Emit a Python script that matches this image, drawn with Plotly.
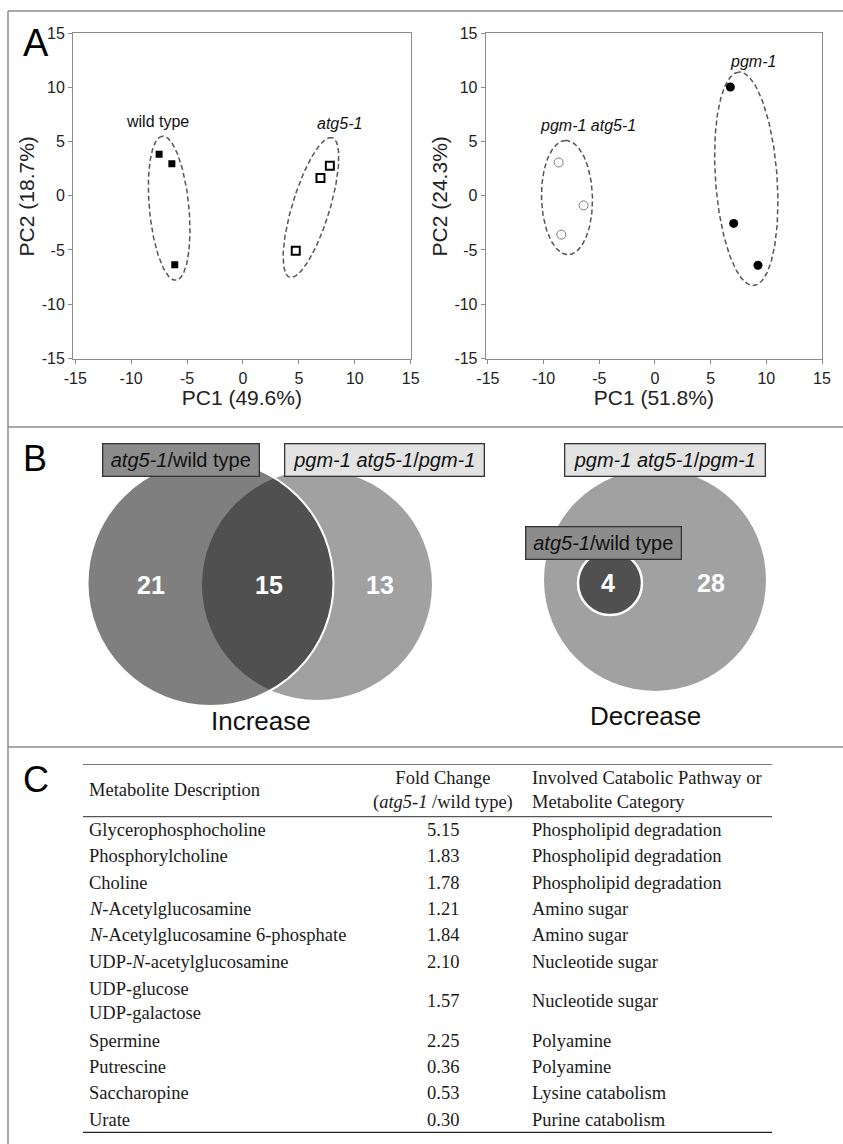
import numpy as np
import plotly.graph_objects as go

W, H = 843, 1144

# ---------------- Panel A data (PCA scores) ----------------
wt_x = [-7.50, -6.36, -6.10]
wt_y = [3.84, 2.95, -6.36]
atg5_x = [4.72, 6.93, 7.77]
atg5_y = [-5.07, 1.63, 2.76]
pgm_atg5_x = [-8.65, -6.41, -8.41]
pgm_atg5_y = [3.07, -0.89, -3.59]
pgm_x = [6.77, 7.07, 9.25]
pgm_y = [10.04, -2.55, -6.42]

# confidence ellipses: centre x, centre y, semi-major, semi-minor, angle (deg)
ell_wt = (-6.60, -1.15, 6.68, 1.77, 95.2)
ell_atg5 = (6.08, -1.08, 6.72, 1.68, 73.6)
ell_pgm_atg5 = (-7.90, -0.17, 5.27, 2.29, 91.3)
ell_pgm = (8.20, 1.57, 9.87, 2.77, 93.9)

group_labels_left = ["wild type", "<i>atg5-1</i>"]
group_label_left_x = [-7.64, 8.66]
group_label_left_y = [6.85, 6.70]
group_labels_right = ["<i>pgm-1 atg5-1</i>", "<i>pgm-1</i>"]
group_label_right_x = [-6.0, 8.8]
group_label_right_y = [6.45, 12.43]

pc_ticks = [-15, -10, -5, 0, 5, 10, 15]
pc_tick_text = ["-15", "-10", "-5", "0", "5", "10", "15"]
pc1_titles = ["PC1 (49.6%)", "PC1 (51.8%)"]
pc2_titles = ["PC2 (18.7%)", "PC2 (24.3%)"]

# ---------------- Panel B data (Venn counts) ----------------
inc_only_atg5 = 21
inc_both = 15
inc_only_pgm = 13
dec_both = 4
dec_only_pgm = 28
set_atg5 = "<i>atg5-1</i>/wild type"
set_pgm = "<i>pgm-1 atg5-1</i>/<i>pgm-1</i>"

# ---------------- Panel C data (table) ----------------
col_headers = ["Metabolite Description",
               "Fold Change<br>(<i>atg5-1</i> /wild type)",
               "Involved Catabolic Pathway or<br>Metabolite Category"]
metabolites = ["Glycerophosphocholine", "Phosphorylcholine", "Choline",
               "<i>N</i>-Acetylglucosamine", "<i>N</i>-Acetylglucosamine 6-phosphate",
               "UDP-<i>N</i>-acetylglucosamine", "UDP-glucose<br>UDP-galactose",
               "Spermine", "Putrescine", "Saccharopine", "Urate"]
fold_change = [5.15, 1.83, 1.78, 1.21, 1.84, 2.10, 1.57, 2.25, 0.36, 0.53, 0.30]
pathway = ["Phospholipid degradation", "Phospholipid degradation", "Phospholipid degradation",
           "Amino sugar", "Amino sugar", "Nucleotide sugar", "Nucleotide sugar",
           "Polyamine", "Polyamine", "Lysine catabolism", "Purine catabolism"]

SANS = "Liberation Sans, Arial, sans-serif"
SERIF = "Liberation Serif, Times New Roman, serif"
FRAME = "#8c8c8c"


def px(x):
    return x / W


def py(y):
    return 1 - y / H


def ellipse(params, n=200):
    cx, cy, a, b, ang = params
    t = np.linspace(0, 2 * np.pi, n)
    th = np.deg2rad(ang)
    ux, uy = np.cos(th), np.sin(th)
    vx, vy = -np.sin(th), np.cos(th)
    xs = cx + a * np.cos(t) * ux + b * np.sin(t) * vx
    ys = cy + a * np.cos(t) * uy + b * np.sin(t) * vy
    return xs, ys


fig = go.Figure()

dash_line = dict(color="#555555", width=1.5, dash="5px,3px")
for par, xa, ya in [(ell_wt, "x", "y"), (ell_atg5, "x", "y"),
                    (ell_pgm_atg5, "x2", "y2"), (ell_pgm, "x2", "y2")]:
    ex, ey = ellipse(par)
    fig.add_trace(go.Scatter(x=ex, y=ey, mode="lines", line=dash_line,
                             xaxis=xa, yaxis=ya, hoverinfo="skip", showlegend=False))

fig.add_trace(go.Scatter(x=wt_x, y=wt_y, mode="markers", xaxis="x", yaxis="y",
                         marker=dict(symbol="square", size=7, color="black"), showlegend=False))
fig.add_trace(go.Scatter(x=atg5_x, y=atg5_y, mode="markers", xaxis="x", yaxis="y",
                         marker=dict(symbol="square-open", size=8, color="black",
                                     line=dict(width=2)), showlegend=False))
fig.add_trace(go.Scatter(x=pgm_atg5_x, y=pgm_atg5_y, mode="markers", xaxis="x2", yaxis="y2",
                         marker=dict(symbol="circle-open", size=9, color="#7a7a7a",
                                     line=dict(width=1)), showlegend=False))
fig.add_trace(go.Scatter(x=pgm_x, y=pgm_y, mode="markers", xaxis="x2", yaxis="y2",
                         marker=dict(symbol="circle", size=9, color="black"), showlegend=False))

annotations = []
for txt, x, y in zip(group_labels_left, group_label_left_x, group_label_left_y):
    annotations.append(dict(text=txt, x=x, y=y, xref="x", yref="y", showarrow=False,
                            xanchor="center", yanchor="middle",
                            font=dict(family=SANS, size=16, color="#111")))
for txt, x, y in zip(group_labels_right, group_label_right_x, group_label_right_y):
    annotations.append(dict(text=txt, x=x, y=y, xref="x2", yref="y2", showarrow=False,
                            xanchor="center", yanchor="middle",
                            font=dict(family=SANS, size=16, color="#111")))

axis_common = dict(tickvals=pc_ticks, ticktext=pc_tick_text, showgrid=False, zeroline=False,
                   showline=True, mirror=True, linecolor=FRAME, linewidth=1,
                   ticks="outside", ticklen=4, tickcolor=FRAME, automargin=False,
                   tickfont=dict(family=SANS, size=16, color="#222"))
title_font = dict(family=SANS, size=21, color="#222")

ydom = [py(359.3), py(33.3)]
fig.update_layout(
    xaxis=dict(axis_common, domain=[px(73), px(410.7)], range=[-15.2, 15], anchor="y",
               title=dict(text=pc1_titles[0], standoff=3, font=title_font)),
    yaxis=dict(axis_common, domain=ydom, range=[-15.1, 15], anchor="x",
               title=dict(text=pc2_titles[0], standoff=1, font=title_font)),
    xaxis2=dict(axis_common, domain=[px(485.7), px(822)], range=[-15.2, 15], anchor="y2",
                title=dict(text=pc1_titles[1], standoff=3, font=title_font)),
    yaxis2=dict(axis_common, domain=ydom, range=[-15.1, 15], anchor="x2",
                title=dict(text=pc2_titles[1], standoff=1, font=title_font)),
    xaxis3=dict(domain=[px(83), px(772)], range=[83, 772], visible=False, anchor="y3",
                automargin=False),
    yaxis3=dict(domain=[py(1133), py(764)], range=[12, -2], visible=False, anchor="x3",
                automargin=False),
)

shapes = []
# outer frame and panel separators
for (x0, y0, x1, y1) in [(8, 11, 843, 11), (8, 11, 8, 1144), (8, 427, 843, 427), (8, 747, 843, 747)]:
    shapes.append(dict(type="line", xref="paper", yref="paper", x0=px(x0), y0=py(y0),
                       x1=px(x1), y1=py(y1), line=dict(color=FRAME, width=1.5)))


def circ(cx, cy, r, **kw):
    d = dict(type="circle", xref="paper", yref="paper",
             x0=px(cx - r), x1=px(cx + r), y0=py(cy + r), y1=py(cy - r))
    d.update(kw)
    return d


# Increase Venn
shapes.append(circ(317, 585, 115, fillcolor="#a1a1a1", line=dict(width=0)))
shapes.append(circ(210.5, 583, 123, fillcolor="black", opacity=0.5, line=dict(width=0)))
shapes.append(circ(210.5, 583, 123, fillcolor="rgba(0,0,0,0)", line=dict(color="white", width=2)))
# Decrease Venn
shapes.append(circ(655, 580, 111, fillcolor="#a1a1a1", line=dict(width=0)))
shapes.append(circ(610, 583, 32, fillcolor="#505050", line=dict(color="white", width=2.5)))

# table rules
for yv, wd, col in [(-2, 1.5, "#444"), (0, 1.2, "#555"), (12, 2.5, "#222")]:
    shapes.append(dict(type="line", xref="x3", yref="y3", x0=83, x1=772, y0=yv, y1=yv,
                       line=dict(color=col, width=wd)))

# panel letters
for letter, x, y, s in [("A", 21, 43, 38), ("B", 21, 458, 36), ("C", 21, 780, 36)]:
    annotations.append(dict(text=letter, x=px(x), y=py(y), xref="paper", yref="paper",
                            xanchor="left", yanchor="middle", showarrow=False,
                            font=dict(family=SANS, size=s, color="black")))

# Venn counts
for val, x, y in [(inc_only_atg5, 151, 585), (inc_both, 269, 585), (inc_only_pgm, 380, 585),
                  (dec_both, 608, 583), (dec_only_pgm, 711, 583)]:
    annotations.append(dict(text="<b>%d</b>" % val, x=px(x), y=py(y), xref="paper", yref="paper",
                            xanchor="center", yanchor="middle",
                            showarrow=False, font=dict(family=SANS, size=25, color="white")))

# Venn set boxes
for txt, cx, cy, w, h, bg in [(set_atg5, 180.5, 460.5, 157, 33, "#8c8c8c"),
                              (set_pgm, 384, 460.5, 200, 33, "#e3e3e3"),
                              (set_pgm, 664.5, 460.5, 201, 33, "#e3e3e3"),
                              (set_atg5, 603, 542.5, 156, 33, "#8c8c8c")]:
    annotations.append(dict(text=txt, x=px(cx), y=py(cy), xref="paper", yref="paper",
                            xanchor="center", yanchor="middle",
                            showarrow=False, width=w - 2, height=h - 2, borderpad=0,
                            bgcolor=bg, bordercolor="#333", borderwidth=1.3,
                            font=dict(family=SANS, size=20, color="#111")))

for txt, x, y in [("Increase", 261, 721), ("Decrease", 645, 716)]:
    annotations.append(dict(text=txt, x=px(x), y=py(y), xref="paper", yref="paper",
                            xanchor="center", yanchor="middle",
                            showarrow=False, font=dict(family=SANS, size=26, color="#111")))

# table
tfont = dict(family=SERIF, size=18.5, color="#1a1a1a")
annotations.append(dict(text=col_headers[0], x=87, y=-1, xref="x3", yref="y3", xanchor="left",
                        yanchor="middle", align="left", showarrow=False, font=tfont))
annotations.append(dict(text=col_headers[1], x=443, y=-1, xref="x3", yref="y3", xanchor="center",
                        yanchor="middle", align="center", showarrow=False, font=tfont))
annotations.append(dict(text=col_headers[2], x=530, y=-1, xref="x3", yref="y3", xanchor="left",
                        yanchor="middle", align="left", showarrow=False, font=tfont))
pos = 0.0
for name, fc, pw in zip(metabolites, fold_change, pathway):
    hgt = name.count("<br>") + 1
    yc = pos + hgt / 2
    pos += hgt
    annotations.append(dict(text=name, x=87, y=yc, xref="x3", yref="y3", xanchor="left",
                            yanchor="middle", align="left", showarrow=False, font=tfont))
    annotations.append(dict(text="%.2f" % fc, x=443, y=yc, xref="x3", yref="y3",
                            xanchor="center", yanchor="middle", showarrow=False, font=tfont))
    annotations.append(dict(text=pw, x=530, y=yc, xref="x3", yref="y3", xanchor="left",
                            yanchor="middle", align="left", showarrow=False, font=tfont))

fig.update_layout(width=W, height=H, autosize=False,
                  margin=dict(l=0, r=0, t=0, b=0, pad=0, autoexpand=False),
                  paper_bgcolor="white", plot_bgcolor="white",
                  shapes=shapes, annotations=annotations, showlegend=False)

fig.write_html("out.html", config={"displayModeBar": False},
               post_script="document.body.style.margin='0';document.body.style.overflow='hidden';")
